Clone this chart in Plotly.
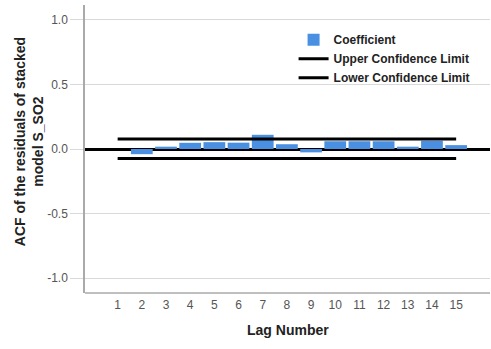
import plotly.graph_objects as go

lags = list(range(1, 16))
coefficient = [0.0, -0.04, 0.018, 0.048, 0.053, 0.049, 0.11, 0.037, -0.026, 0.06, 0.06, 0.06, 0.018, 0.064, 0.03]
upper_limit = [0.077] * 15
lower_limit = [-0.074] * 15
tick_labels = [str(l) for l in lags]

FONT = "Liberation Sans, Arial, sans-serif"

fig = go.Figure()
fig.add_trace(go.Bar(
    x=lags, y=coefficient, name="Coefficient",
    marker=dict(color="#4a90e2", line=dict(width=0)),
    width=0.9,
))
fig.add_trace(go.Scatter(
    x=lags, y=upper_limit, mode="lines", name="Upper Confidence Limit",
    line=dict(color="black", width=3),
))
fig.add_trace(go.Scatter(
    x=lags, y=lower_limit, mode="lines", name="Lower Confidence Limit",
    line=dict(color="black", width=3),
))

fig.update_layout(
    width=491, height=349,
    margin=dict(l=85, r=1, t=5, b=56, autoexpand=False),
    paper_bgcolor="white", plot_bgcolor="white",
    font=dict(family=FONT, size=12, color="#555555"),
    showlegend=True,
    legend=dict(
        x=0.515, y=0.93, xanchor="left", yanchor="top",
        font=dict(family=FONT, size=12, color="#222222", weight="bold"),
        bgcolor="rgba(0,0,0,0)", tracegroupgap=0, itemwidth=30,
        traceorder="normal",
    ),
    xaxis=dict(
        range=[-0.35, 16.4], automargin=False,
        tickmode="array", tickvals=lags, ticktext=tick_labels,
        showgrid=False, zeroline=False, showline=False,
        ticks="", ticklabelstandoff=3,
        tickfont=dict(family=FONT, size=12, color="#555555"),
    ),
    yaxis=dict(
        range=[-1.115, 1.115], automargin=False,
        tickvals=[-1.0, -0.5, 0.0, 0.5, 1.0],
        ticktext=["-1.0", "-0.5", "0.0", "0.5", "1.0"],
        showgrid=True, gridcolor="#d9d9d9", gridwidth=1,
        zeroline=True, zerolinecolor="black", zerolinewidth=3,
        showline=True, linecolor="#aaaaaa", linewidth=1.5,
        ticks="outside", ticklen=13, tickcolor="#d9d9d9",
        ticklabelstandoff=0,
        tickfont=dict(family=FONT, size=12, color="#555555"),
    ),
    bargap=0.08,
)

fig.add_annotation(
    text="ACF of the residuals of stacked<br>model S_SO2",
    xref="paper", yref="paper", x=-0.138, y=0.524,
    xanchor="center", yanchor="middle", textangle=-90, showarrow=False,
    font=dict(family=FONT, size=14, color="#222222", weight="bold"),
)
fig.add_annotation(
    text="Lag Number",
    xref="paper", yref="paper", x=0.5, y=-0.128,
    xanchor="center", yanchor="middle", showarrow=False,
    font=dict(family=FONT, size=14, color="#222222", weight="bold"),
)

# bottom axis line
fig.add_shape(type="line", xref="paper", yref="paper", x0=0, x1=1, y0=0, y1=0,
              line=dict(color="#aaaaaa", width=1.5))

fig.write_html("out.html", config={"displayModeBar": False},
               post_script="document.body.style.margin='0';")
